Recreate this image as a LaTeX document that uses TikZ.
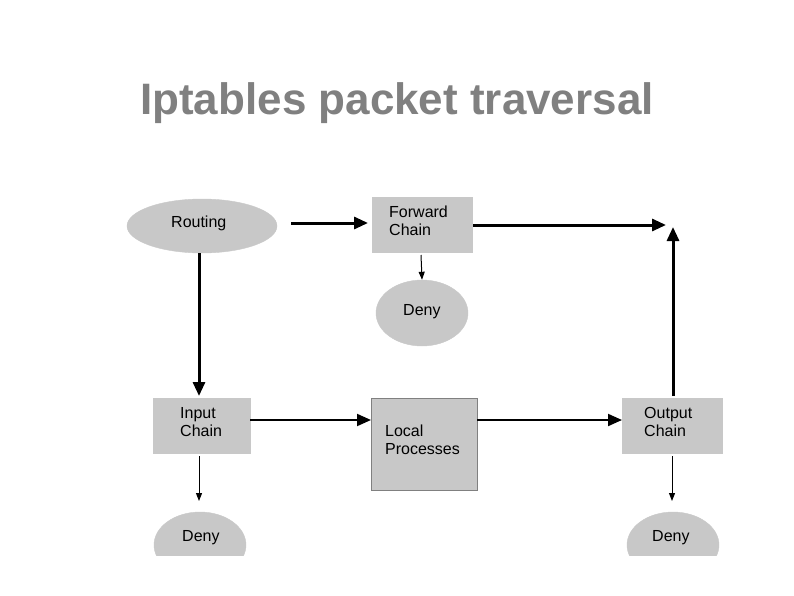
\documentclass[tikz,border=0pt]{standalone}
\usepackage{fontspec}
\setmainfont{Liberation Sans}
\usetikzlibrary{arrows.meta,shapes.geometric}
\definecolor{boxg}{RGB}{200,200,200}
\definecolor{titleg}{RGB}{128,128,128}
\tikzset{
  box/.style={fill=boxg,draw=boxg,minimum width=#1,anchor=north west,inner sep=0pt},
  oval/.style={ellipse,fill=boxg,draw=boxg,inner sep=0pt},
  lbl/.style={font=\fontsize{16}{18}\selectfont,align=left,anchor=north west,inner sep=0pt},
  thick arr/.style={line width=3pt,-{Triangle[length=14pt,width=12pt]}},
  thin arr/.style={line width=1pt,-{Triangle[length=8pt,width=6pt]}}
}
\begin{document}
\begin{tikzpicture}[x=1pt,y=-1pt]
\useasboundingbox (0,0) rectangle (794,596);
\node[anchor=center,text=titleg,font=\bfseries\fontsize{44}{48}\selectfont] (title) at (397,103) {Iptables packet traversal};
% shapes
\node[oval,minimum width=150,minimum height=54] (routing) at (202,226) {};
\node[lbl] at (171,216) {Routing};
\node[box=100,minimum height=55] (fwd) at (372,197) {};
\node[lbl] at (389,206) {Forward\\Chain};
\node[oval,minimum width=92,minimum height=66] (deny1) at (422,313) {};
\node[lbl] at (403,304) {Deny};
\node[box=97,minimum height=55] (input) at (153,398) {};
\node[lbl] at (180,407) {Input\\Chain};
\node[box=106,minimum height=92,draw=gray] (local) at (371,398) {};
\begin{scope}
\clip (371,398) rectangle (463,490);
\node[lbl] at (385,425) {Local\\Processes};
\end{scope}
\node[box=100,minimum height=55] (output) at (622,398) {};
\node[lbl] at (644,407) {Output\\Chain};
\begin{scope}
\clip (0,0) rectangle (794,555);
\node[oval,minimum width=92,minimum height=66] (deny2) at (200,545) {};
\node[oval,minimum width=92,minimum height=66] (deny3) at (673,545) {};
\end{scope}
\node[lbl] at (182,530) {Deny};
\node[lbl] at (652,530) {Deny};
% coordinates
\coordinate (c1) at (291,223);
\coordinate (c2) at (368,223);
\coordinate (c3) at (473,225);
\coordinate (c4) at (666,225);
\coordinate (c5) at (673,396);
\coordinate (c6) at (673,227);
% arrows
\draw[thick arr] (c1) -- (c2);
\draw[thick arr] (c3) -- (c4);
\draw[thick arr] (c5) -- (c6);
\draw[thick arr] (199,253) -- (199,396);
\draw[line width=2pt,-{Triangle[length=14pt,width=12pt]}] (input.east |- 0,420) -- (local.west |- 0,420);
\draw[line width=2pt,-{Triangle[length=14pt,width=12pt]}] (local.east |- 0,420) -- (output.west |- 0,420);
\draw[thin arr] (421,255) -- (deny1.north);
\draw[thin arr] (199,456) -- (199,501);
\draw[thin arr] (672,456) -- (672,501);
\end{tikzpicture}
\end{document}
